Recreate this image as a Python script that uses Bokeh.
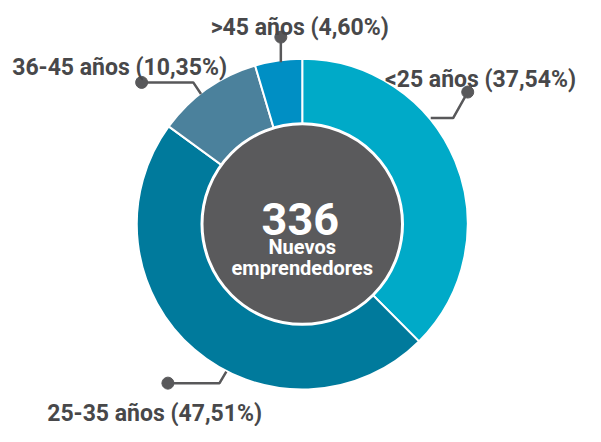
import numpy as np
from bokeh.plotting import figure
from bokeh.models import Range1d, ColumnDataSource
from bokeh.core.properties import value
from bokeh.embed import file_html
from bokeh.resources import INLINE

# ---- data ----
categories = ["<25 años", "25-35 años", "36-45 años", ">45 años"]
percentages = [37.54, 47.51, 10.35, 4.60]
colors = ["#00aac8", "#007a9c", "#4b819c", "#008fc4"]
total = 336
center_lines = ["Nuevos", "emprendedores"]

# ---- layout (reference pixel space, y downward -> negate) ----
W, H = 585, 426
REF_W, REF_H = 601, 442
cx, cy = 310, 232
R_OUT, R_IN = 170, 103
GREY = "#58585a"
TEXT = "#48484a"
FONT = value("Roboto")

p = figure(width=W, height=H, output_backend="svg", toolbar_location=None,
           x_range=Range1d(0, REF_W), y_range=Range1d(-REF_H, 0),
           min_border=0, outline_line_color=None)
p.axis.visible = False
p.grid.visible = False
p.background_fill_color = "white"
p.border_fill_color = "white"

frac = np.array(percentages) / 100.0
cum = np.concatenate([[0], np.cumsum(frac)])
start = np.pi / 2 - 2 * np.pi * cum[:-1]
end = np.pi / 2 - 2 * np.pi * cum[1:]
src = ColumnDataSource(dict(start=start, end=end, color=colors,
                            x=[cx] * 4, y=[-cy] * 4))
p.wedge(x="x", y="y", radius=R_OUT, start_angle="start", end_angle="end",
        direction="clock", fill_color="color", line_color="white",
        line_width=2, source=src)

p.circle(x=[cx], y=[-cy], radius=R_IN, fill_color="#5a5a5c",
         line_color="white", line_width=3)

# leader lines (label layout)
leaders = [
    [(480, 95), (465, 122), (442, 122)],
    [(172, 397), (225, 397), (232, 385)],
    [(145, 85), (198, 85), (206, 97)],
    [(288, 38), (288, 64)],
]
p.multi_line(xs=[[a for a, b in L] for L in leaders],
             ys=[[-b for a, b in L] for L in leaders],
             line_color=GREY, line_width=2.5)
p.scatter(x=[L[0][0] for L in leaders], y=[-L[0][1] for L in leaders],
          size=12, fill_color=GREY, line_color=GREY, marker="circle")

label_pos = [(395, 82), (48, 428), (12, 69), (216, 28)]
labels = [f"{c} ({v:.2f}%)".replace(".", ",") for c, v in zip(categories, percentages)]
p.text(x=[a for a, b in label_pos], y=[-b for a, b in label_pos], text=labels,
       text_font=FONT, text_font_style="bold", text_font_size="23px",
       text_color=TEXT, text_align="left", text_baseline="alphabetic")

# center texts
p.text(x=[308], y=[-227], text=[str(total)], text_font=FONT,
       text_font_style="bold", text_font_size="45px", text_color="white",
       text_align="center", text_baseline="alphabetic")
p.text(x=[310, 310], y=[-256, -278], text=center_lines, text_font=FONT,
       text_font_style="bold", text_font_size="20px", text_color="white",
       text_align="center", text_baseline="alphabetic")

open("out.html", "w").write(file_html(p, INLINE))
